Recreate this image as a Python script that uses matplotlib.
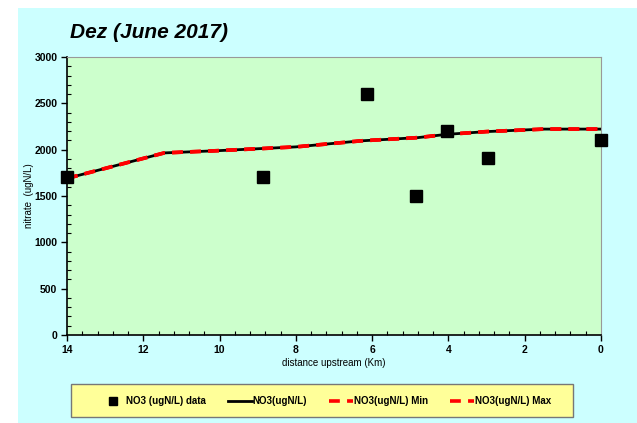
import numpy as np
import matplotlib.pyplot as plt
from matplotlib.ticker import MultipleLocator

# observed data
obs_km = [14.0, 8.85, 6.13, 4.85, 4.05, 2.95, 0.0]
obs_no3 = [1700, 1700, 2605, 1500, 2205, 1910, 2105]

# model run
mod_km = [14.0, 11.45, 10.0, 8.0, 6.3, 4.8, 4.05, 3.0, 1.5, 0.0]
mod_no3 = [1690, 1965, 1990, 2030, 2095, 2130, 2165, 2195, 2222, 2222]
mod_min = mod_no3
mod_max = mod_no3

plt.rcParams['font.family'] = ['Liberation Sans', 'DejaVu Sans']

fig = plt.figure(figsize=(6.37, 4.23), dpi=100)
fig.patch.set_facecolor('white')
# cyan chart area
fig.patches.append(plt.Rectangle((18 / 637, 0), 1, 1 - 8 / 423, transform=fig.transFigure,
                                 facecolor='#CCFFFF', edgecolor='none', zorder=-10))
# legend box (drawn by hand so the entries can sit where they are in the original)
fig.patches.append(plt.Rectangle((71 / 637, 1 - 417 / 423), 502 / 637, 33 / 423,
                                 transform=fig.transFigure, facecolor='#FFFF99',
                                 edgecolor='#777777', lw=1, zorder=-5))

ax = fig.add_axes([67 / 637, 1 - 335 / 423, 534 / 637, 278 / 423])
ax.set_facecolor('#CCFFCC')

ax.plot(mod_km, mod_no3, color='black', lw=2, label='NO3(ugN/L)', zorder=3)
ax.plot(mod_km, mod_min, color='red', lw=2.6, ls=(0, (3, 2)), label='NO3(ugN/L) Min', zorder=4)
ax.plot(mod_km, mod_max, color='red', lw=2.6, ls=(0, (3, 2)), label='NO3(ugN/L) Max', zorder=4)
ax.plot(obs_km, obs_no3, ls='none', marker='s', ms=8.5, color='black',
        label='NO3 (ugN/L) data', zorder=5, clip_on=False)

ax.set_xlim(14, 0)
ax.set_ylim(0, 3000)
ax.xaxis.set_major_locator(MultipleLocator(2))
ax.xaxis.set_minor_locator(MultipleLocator(0.4))
ax.yaxis.set_major_locator(MultipleLocator(500))
ax.yaxis.set_minor_locator(MultipleLocator(100))
ax.tick_params(which='major', direction='out', length=4, width=1, labelsize=7.5, pad=3)
ax.tick_params(which='minor', direction='in', length=3, width=0.8)
for lab in ax.get_xticklabels() + ax.get_yticklabels():
    lab.set_fontweight('bold')

for s in ['top', 'right']:
    ax.spines[s].set_color('#999999')
for s in ['left', 'bottom']:
    ax.spines[s].set_color('black')
    ax.spines[s].set_linewidth(1.2)

ax.set_xlabel('distance upstream (Km)', fontsize=7, labelpad=2)
ax.set_ylabel('nitrate  (ugN/L)', fontsize=7, labelpad=0)

fig.text(70 / 637, 1 - 33 / 423, 'Dez (June 2017)', fontsize=15, fontweight='bold',
         fontstyle='italic', va='center', ha='left')

h, l = ax.get_legend_handles_labels()
order = [3, 0, 1, 2]
leg = fig.legend([h[i] for i in order], [l[i] for i in order], ncol=4,
                 loc='center', bbox_to_anchor=(326 / 637, 1 - 401 / 423),
                 prop={'weight': 'bold', 'size': 7},
                 frameon=False, handlelength=2.5, columnspacing=2.2,
                 handletextpad=0.1, borderaxespad=0, markerscale=0.6)

fig.savefig('out.png', dpi=100, facecolor=fig.get_facecolor())
